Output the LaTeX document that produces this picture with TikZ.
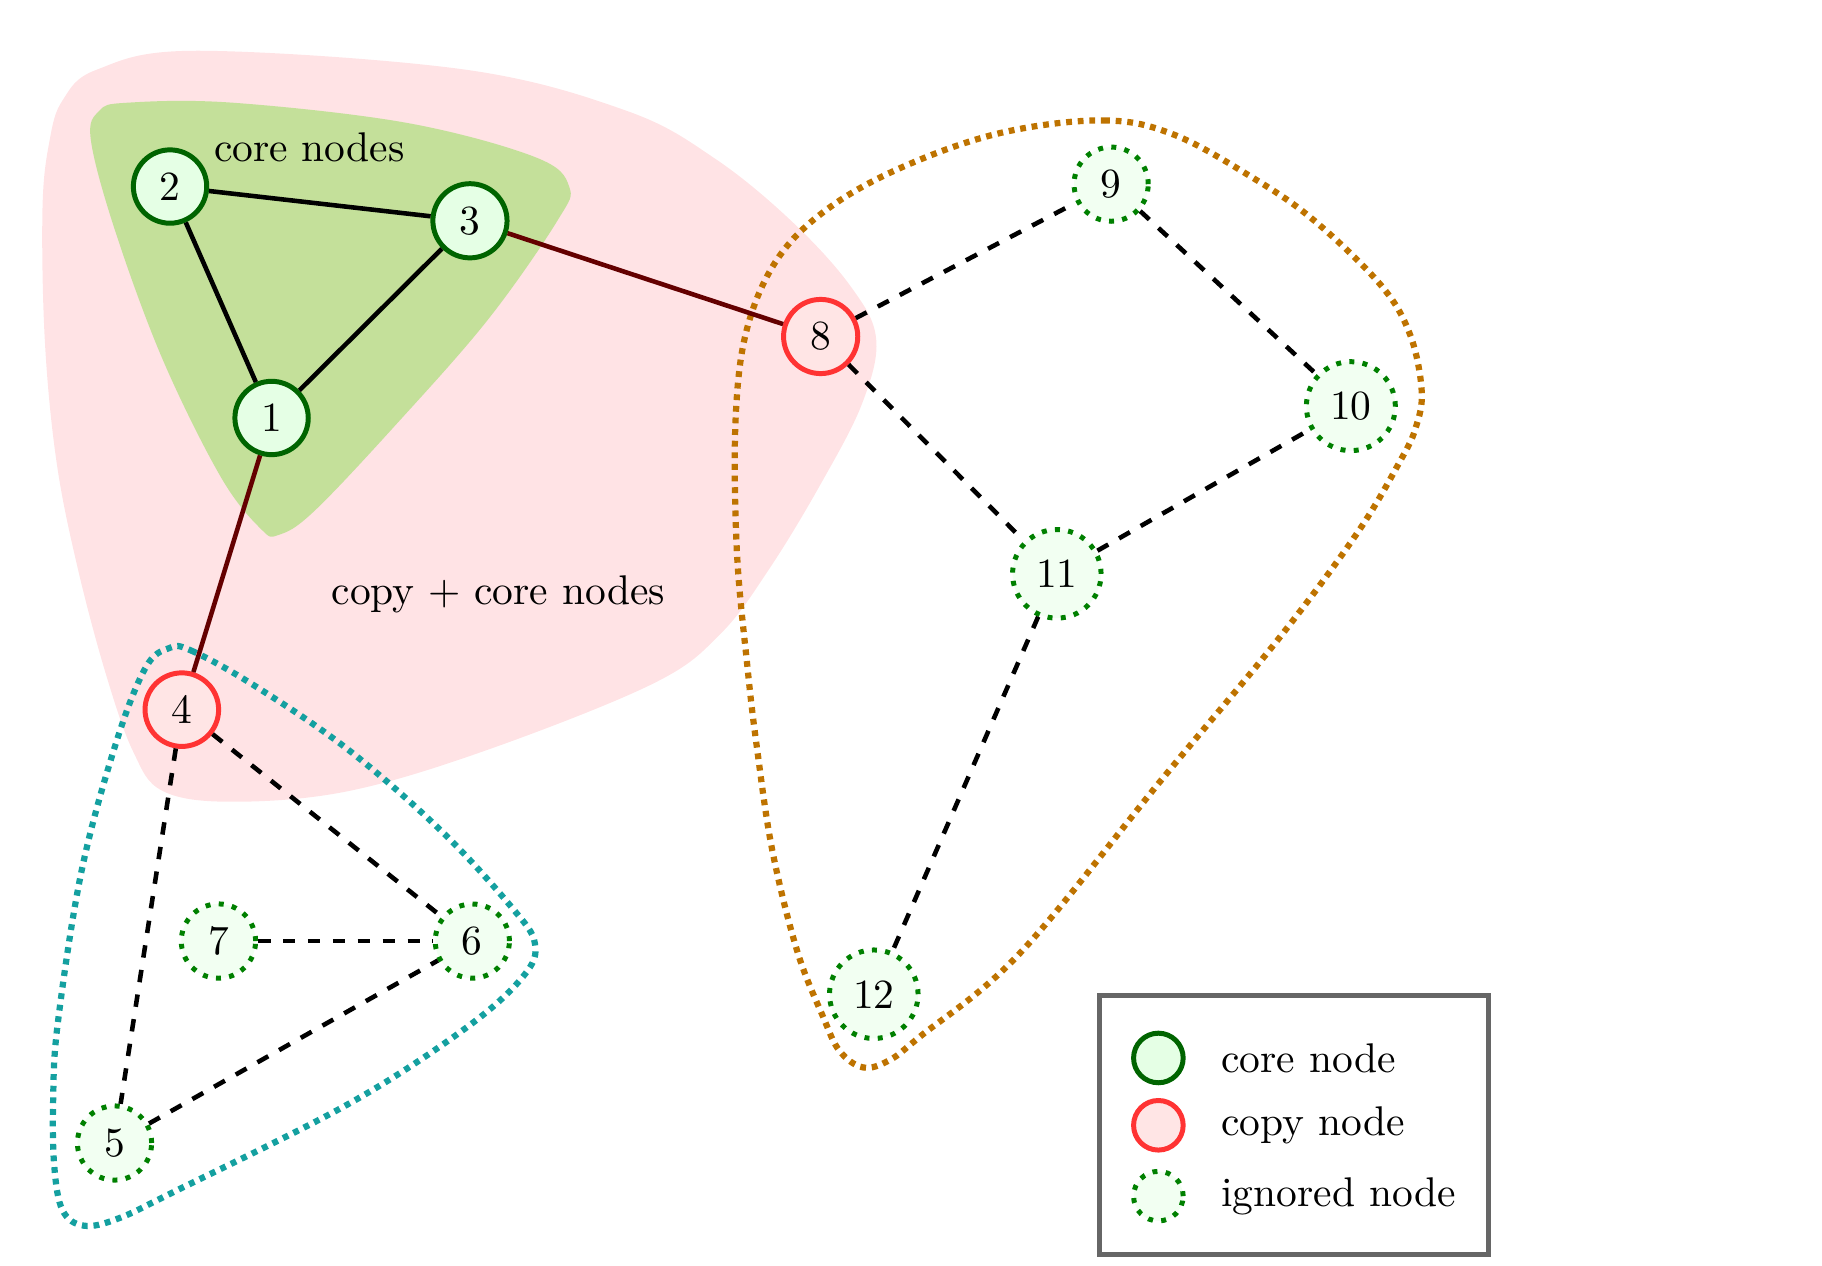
\documentclass[tikz,border=0pt]{standalone}
\usepackage{tikz}
\usepackage{xcolor}

\definecolor{corearea}{RGB}{196,224,154}
\definecolor{copyarea}{RGB}{255,227,229}
\definecolor{hullteal}{RGB}{20,160,160}
\definecolor{hullorange}{RGB}{190,115,0}
\definecolor{darkgreen}{RGB}{0,100,0}
\definecolor{linkred}{RGB}{100,0,0}

\begin{document}
\begin{tikzpicture}[
  corenode/.style={circle, draw=darkgreen, fill=green!10, very thick},
  copynode/.style={circle, draw=red!80, fill=red!10, very thick},
  ignorednode/.style={circle, draw=green!50!black, fill=green!5, very thick, dotted},
  coreedge/.style={line width=1.1pt, black},
  linkedge/.style={line width=1.1pt, linkred},
  ignoredge/.style={line width=1.1pt, dashed, black},
  hull/.style={line width=1.5pt, dash pattern=on 1.4pt off 1.4pt},
  legendnode/.style={minimum size=0.42cm, inner sep=0pt}
]
  \useasboundingbox (0,0) rectangle (15.43,10.72);

  % areas
  \fill[copyarea] plot[smooth cycle, tension=0.6] coordinates {
    (0.36,8.96) (0.42,9.53) (0.53,9.87) (0.82,10.13) (1.67,10.29) (3.94,10.13)
    (5.31,9.78) (6.05,9.38) (6.70,8.85) (7.20,8.30) (7.42,7.85) (7.30,7.30)
    (6.95,6.62) (6.52,5.91) (6.10,5.35) (5.53,4.93) (4.13,4.37) (2.95,4.02)
    (1.97,3.93) (1.38,4.02) (1.13,4.35) (0.90,5.00) (0.66,5.90) (0.48,6.80)
    (0.38,7.83)};
  \fill[corearea] plot[smooth cycle, tension=0.6] coordinates {
    (0.77,9.53) (0.84,9.78) (1.08,9.85) (1.97,9.85) (3.44,9.68) (4.53,9.39)
    (4.82,9.14) (4.72,8.85) (4.13,8.01) (3.35,7.12) (2.66,6.39) (2.36,6.19)
    (2.21,6.24) (1.87,6.68) (1.38,7.67) (0.98,8.75)};
  \draw[hull, hullteal] plot[smooth cycle, tension=0.6] coordinates {
    (1.43,5.23) (1.62,5.21) (2.16,4.91) (2.95,4.37) (3.74,3.68) (4.33,3.04)
    (4.53,2.73) (4.43,2.45) (3.94,2.01) (2.95,1.37) (1.48,0.63) (1.00,0.40)
    (0.71,0.34) (0.53,0.47) (0.46,0.84) (0.45,1.40) (0.49,2.06)
    (0.69,3.34) (0.98,4.42) (1.23,5.06)};
  \draw[hull, hullorange] plot[smooth cycle, tension=0.6] coordinates {
    (8.50,9.60) (9.35,9.70) (9.94,9.58) (10.60,9.22) (11.12,8.86) (11.69,8.31)
    (11.94,7.89) (12.04,7.41) (11.99,7.10) (11.86,6.82) (11.49,6.20) (10.82,5.30)
    (9.84,4.12) (8.64,2.65) (7.79,1.94) (7.53,1.74) (7.31,1.68) (7.11,1.82)
    (6.97,2.11) (6.75,2.67) (6.54,3.52) (6.41,4.39) (6.33,5.07) (6.24,6.06)
    (6.23,7.18) (6.33,7.95) (6.60,8.55) (7.05,8.98) (7.70,9.33)};

  \node (corelabel) at (2.62,9.47) {core nodes};
  \node (copylabel) at (4.22,5.69) {copy + core nodes};

  % nodes
  \node (n1) [corenode] at (2.30,7.18) {1};
  \node (n2) [corenode] at (1.44,9.14) {2};
  \node (n3) [corenode] at (3.98,8.85) {3};
  \node (n4) [copynode] at (1.54,4.71) {4};
  \node (n8) [copynode] at (6.95,7.87) {8};
  \node (n5) [ignorednode] at (0.97,1.04) {5};
  \node (n6) [ignorednode] at (4.00,2.75) {6};
  \node (n7) [ignorednode] at (1.85,2.75) {7};
  \node (n9) [ignorednode] at (9.41,9.16) {9};
  \node (n10) [ignorednode] at (11.44,7.28) {10};
  \node (n11) [ignorednode] at (8.95,5.86) {11};
  \node (n12) [ignorednode] at (7.40,2.30) {12};

  % edges
  \draw [coreedge] (n1) -- (n2);
  \draw [coreedge] (n1) -- (n3);
  \draw [coreedge] (n2) -- (n3);
  \draw [linkedge] (n1) -- (n4);
  \draw [linkedge] (n3) -- (n8);
  \draw [ignoredge] (n4) -- (n5);
  \draw [ignoredge] (n4) -- (n6);
  \draw [ignoredge] (n5) -- (n6);
  \draw [ignoredge] (n7) -- (n6);
  \draw [ignoredge] (n8) -- (n9);
  \draw [ignoredge] (n8) -- (n11);
  \draw [ignoredge] (n9) -- (n10);
  \draw [ignoredge] (n11) -- (n10);
  \draw [ignoredge] (n11) -- (n12);

  % legend
  \node (legend) [draw=black!60, very thick, minimum width=3.29cm, minimum height=2.19cm] at (10.96,1.19) {};
  \node (lcore) [corenode, legendnode] at (9.81,1.76) {};
  \node (lcopy) [copynode, legendnode] at (9.81,1.19) {};
  \node (lignored) [ignorednode, legendnode] at (9.81,0.59) {};
  \node [anchor=west] at (10.22,1.76) {core node};
  \node [anchor=west] at (10.22,1.19) {copy node};
  \node [anchor=west] at (10.22,0.59) {ignored node};
\end{tikzpicture}
\end{document}
